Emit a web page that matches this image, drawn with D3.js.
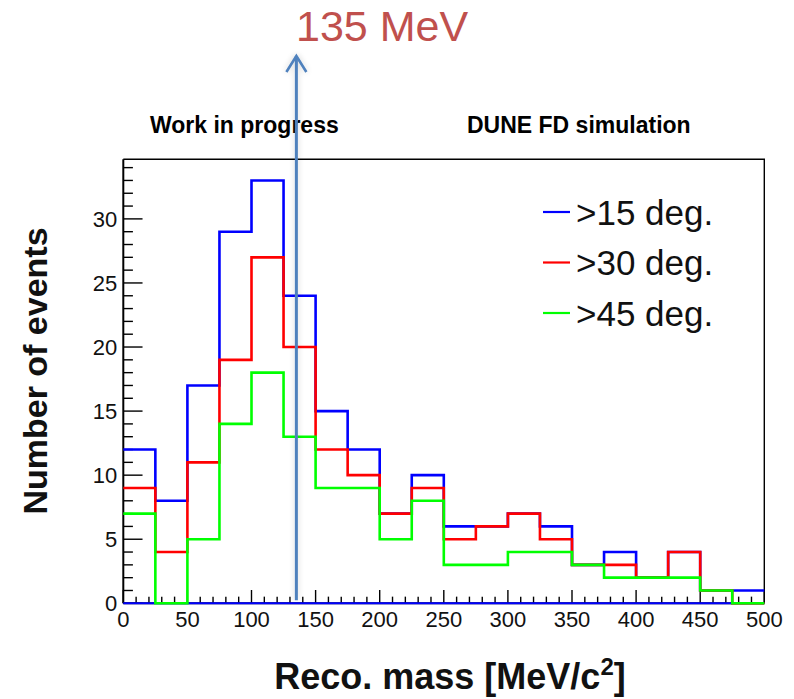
<!DOCTYPE html>
<html>
<head>
<meta charset="utf-8">
<script src="https://cdn.jsdelivr.net/npm/d3@7"></script>
<style>
  html, body { margin: 0; padding: 0; background: #fff; }
  svg { display: block; }
  text { font-family: "Liberation Sans", Arial, Helvetica, sans-serif; }
</style>
</head>
<body>
<svg id="chart" width="794" height="699"></svg>
<script>
// Histogram bins (lower edges, MeV/c^2) and bin width
const binLow = [0, 25, 50, 75, 100, 125, 150, 175, 200, 225, 250, 275, 300, 325, 350, 375, 400, 425, 450, 475];
const binWidth = 25;

// Event counts per bin for each opening-angle cut
const above15 = [12, 8, 17, 29, 33, 24, 15, 12, 7, 10, 6, 6, 7, 6, 3, 4, 2, 4, 1, 1];
const above30 = [9, 4, 11, 19, 27, 20, 12, 10, 7, 9, 5, 6, 7, 5, 3, 3, 2, 4, 1, 0];
const above45 = [7, 0, 5, 14, 18, 13, 9, 9, 5, 8, 3, 3, 4, 4, 3, 2, 2, 2, 1, 0];

const seriesNames = [">15 deg.", ">30 deg.", ">45 deg."];
const seriesColors = ["#0000ff", "#ff0000", "#00ff00"];

// Axis ticks
const xMajorTicks = [0, 50, 100, 150, 200, 250, 300, 350, 400, 450, 500];
const yMajorTicks = [0, 5, 10, 15, 20, 25, 30];

// Reference pion mass marker
const pi0Mass = 135;
const pi0Label = "135 MeV";

const svg = d3.select("#chart");

const plot = { left: 123.3, right: 764.3, top: 159.3, bottom: 603.3 };
const xMax = 500;
const yMax = 34.65;

const x = d3.scaleLinear().domain([0, xMax]).range([plot.left, plot.right]);
const y = d3.scaleLinear().domain([0, yMax]).range([plot.bottom, plot.top]);

const plotW = plot.right - plot.left;
const plotH = plot.bottom - plot.top;

// Frame (top and right)
svg.append("path")
  .attr("d", `M${plot.left},${plot.top}H${plot.right}V${plot.bottom}`)
  .attr("fill", "none").attr("stroke", "#000").attr("stroke-width", 1.4);

// Y axis: ticks drawn inward
const yMinor = d3.range(0, 35, 1);
const gy = svg.append("g").attr("transform", `translate(${plot.left},0)`);
gy.selectAll("line.minor").data(yMinor).join("line")
  .attr("x1", 0).attr("x2", d => (d % 5 === 0 ? 0.03 * plotW : 0.015 * plotW))
  .attr("y1", d => y(d)).attr("y2", d => y(d))
  .attr("stroke", "#000").attr("stroke-width", 1.4);
gy.append("line").attr("x1", 0).attr("x2", 0).attr("y1", plot.top).attr("y2", plot.bottom)
  .attr("stroke", "#000").attr("stroke-width", 2);
gy.selectAll("text").data(yMajorTicks).join("text")
  .attr("x", -6).attr("y", d => y(d)).attr("dy", "0.36em")
  .attr("text-anchor", "end").attr("font-size", 22).attr("fill", "#111")
  .text(d => d);

// X axis: ticks drawn inward
const xMinor = d3.range(0, 501, 10);
const gx = svg.append("g").attr("transform", `translate(0,${plot.bottom})`);
gx.selectAll("line").data(xMinor).join("line")
  .attr("x1", d => x(d)).attr("x2", d => x(d))
  .attr("y1", 0).attr("y2", d => (d % 50 === 0 ? -0.03 * plotH : -0.015 * plotH))
  .attr("stroke", "#000").attr("stroke-width", 1.4);
gx.append("line").attr("x1", plot.left).attr("x2", plot.right).attr("y1", 0).attr("y2", 0)
  .attr("stroke", "#000").attr("stroke-width", 2);
gx.selectAll("text").data(xMajorTicks).join("text")
  .attr("x", d => x(d)).attr("y", 24)
  .attr("text-anchor", "middle").attr("font-size", 22).attr("fill", "#111")
  .text(d => d);

// Histogram baseline
svg.append("line")
  .attr("x1", x(0)).attr("x2", x(xMax)).attr("y1", y(0)).attr("y2", y(0))
  .attr("stroke", "#0000ff").attr("stroke-width", 2);

// Step outlines
const allSeries = [above15, above30, above45];
const step = d3.line().x(d => x(d[0])).y(d => y(d[1])).curve(d3.curveStepAfter);
allSeries.forEach((vals, i) => {
  const pts = binLow.map((lo, k) => [lo, vals[k]]);
  pts.push([binLow[binLow.length - 1] + binWidth, vals[vals.length - 1]]);
  svg.append("path")
    .attr("d", step(pts))
    .attr("fill", "none")
    .attr("stroke", seriesColors[i])
    .attr("stroke-width", 2.6)
    .attr("stroke-linejoin", "miter");
});

// Legend
const legend = svg.append("g");
seriesNames.forEach((name, i) => {
  const ly = 212 + i * 50.5;
  legend.append("line")
    .attr("x1", 543).attr("x2", 570).attr("y1", ly).attr("y2", ly)
    .attr("stroke", seriesColors[i]).attr("stroke-width", 2.2);
  legend.append("text")
    .attr("x", 576).attr("y", ly).attr("dy", "0.36em")
    .attr("font-size", 35).attr("fill", "#111")
    .text(name);
});

// Axis titles
svg.append("text")
  .attr("x", 450).attr("y", 689)
  .attr("text-anchor", "middle").attr("font-size", 36).attr("font-weight", "bold")
  .attr("fill", "#111")
  .html('Reco. mass [MeV/c<tspan dy="-14" font-size="24">2</tspan><tspan dy="14">]</tspan>');

svg.append("text")
  .attr("transform", "translate(47,371) rotate(-90)")
  .attr("text-anchor", "middle").attr("font-size", 34).attr("font-weight", "bold")
  .attr("fill", "#111")
  .text("Number of events");

// Header labels
svg.append("text")
  .attr("x", 150).attr("y", 133)
  .attr("font-family", "Lato, 'Open Sans', sans-serif")
  .attr("font-size", 23).attr("font-weight", "bold").attr("fill", "#000")
  .text("Work in progress");
svg.append("text")
  .attr("x", 467).attr("y", 133)
  .attr("font-family", "Lato, 'Open Sans', sans-serif")
  .attr("font-size", 23).attr("font-weight", "bold").attr("fill", "#000")
  .text("DUNE FD simulation");

// Pion mass arrow with soft shadow
const defs = svg.append("defs");
const f = defs.append("filter").attr("id", "glow").attr("x", "-200%").attr("y", "-5%")
  .attr("width", "500%").attr("height", "110%");
f.append("feGaussianBlur").attr("in", "SourceAlpha").attr("stdDeviation", 3).attr("result", "b");
f.append("feComponentTransfer").attr("in", "b").attr("result", "s")
  .append("feFuncA").attr("type", "linear").attr("slope", 0.18);
const m = f.append("feMerge");
m.append("feMergeNode").attr("in", "s");
m.append("feMergeNode").attr("in", "SourceGraphic");

const ax = x(pi0Mass);
const tipY = 56;
const arrow = svg.append("g").attr("filter", "url(#glow)");
arrow.append("line")
  .attr("x1", ax).attr("x2", ax).attr("y1", tipY).attr("y2", y(0) - 3)
  .attr("stroke", "#4f81bd").attr("stroke-width", 3);
arrow.append("path")
  .attr("d", `M${ax - 10},${tipY + 16}L${ax},${tipY}L${ax + 10},${tipY + 16}`)
  .attr("fill", "none").attr("stroke", "#4f81bd").attr("stroke-width", 2.6)
  .attr("stroke-linejoin", "miter");

svg.append("text")
  .attr("x", 296).attr("y", 41)
  .attr("font-size", 43).attr("fill", "#c0504d")
  .text(pi0Label);
</script>
</body>
</html>
